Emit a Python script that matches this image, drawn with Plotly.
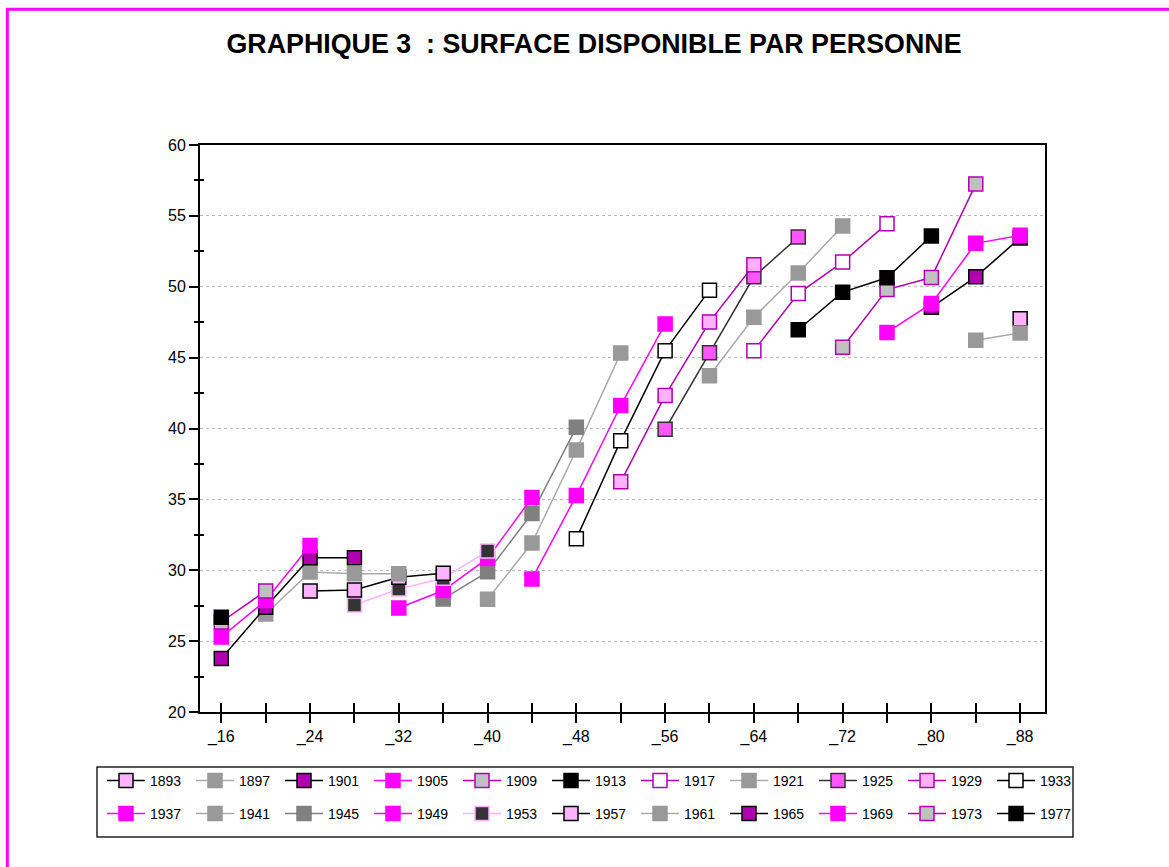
import plotly.graph_objects as go

# birth cohorts and their styles
cohorts = [1893, 1897, 1901, 1905, 1909, 1913, 1917, 1921, 1925, 1929, 1933,
           1937, 1941, 1945, 1949, 1953, 1957, 1961, 1965, 1969, 1973, 1977]

# age (x position) of the first observation of each cohort, then every 4 years
first_age = [88, 84, 80, 76, 72, 68, 64, 60, 56, 52, 48,
             44, 40, 36, 32, 28, 24, 20, 16, 16, 16, 16]

# surface per person (m2)
surface = [
    [47.75],
    [46.22, 46.74],
    [48.55, 50.70, 53.44],
    [46.78, 48.81, 53.06, 53.63],
    [45.73, 49.80, 50.65, 57.24],
    [46.97, 49.62, 50.63, 53.58],
    [45.49, 49.52, 51.74, 54.45],
    [43.72, 47.85, 50.97, 54.29],
    [39.94, 45.35, 50.70, 53.51],
    [36.24, 42.32, 47.52, 51.55],
    [32.23, 39.14, 45.49, 49.76],
    [29.39, 35.27, 41.62, 47.38],
    [27.95, 31.92, 38.48, 45.32],
    [27.98, 29.89, 34.00, 40.08],
    [27.34, 28.57, 30.83, 35.13],
    [27.55, 28.68, 29.44, 31.35],
    [28.54, 28.61, 29.51, 29.79],
    [26.91, 29.87, 29.75, 29.75],
    [23.78, 27.39, 30.88, 30.88],
    [25.29, 27.86, 31.75],
    [26.35, 28.54],
    [26.68],
]

age_ticks = list(range(16, 89, 4))
age_labels = [f"_{a}" if (a - 16) % 8 == 0 else "" for a in age_ticks]

PINK_L = "#ffb3ff"
PURPLE = "#b000b0"
MAG = "#ff00ff"
GRAY = "#999999"
# (fill, outline, line)
styles = [
    (PINK_L, "#000000", "#000000"),
    (GRAY, GRAY, "#aaaaaa"),
    (PURPLE, "#000000", "#000000"),
    (MAG, MAG, MAG),
    ("#c0c0c0", PURPLE, PURPLE),
    ("#000000", "#000000", "#000000"),
    ("#ffffff", PURPLE, PURPLE),
    (GRAY, GRAY, "#aaaaaa"),
    ("#ff55ff", "#333333", "#333333"),
    (PINK_L, PURPLE, PURPLE),
    ("#ffffff", "#000000", "#000000"),
    (MAG, MAG, MAG),
    (GRAY, GRAY, "#aaaaaa"),
    ("#808080", "#808080", "#808080"),
    (MAG, MAG, MAG),
    ("#333333", PINK_L, PINK_L),
    (PINK_L, "#000000", "#000000"),
    (GRAY, GRAY, "#aaaaaa"),
    (PURPLE, "#000000", "#000000"),
    (MAG, MAG, MAG),
    ("#c0c0c0", PURPLE, PURPLE),
    ("#000000", "#000000", "#000000"),
]

FONT = "Liberation Sans, Arial, sans-serif"
W, H = 1169, 867
ML, MR, MT, MB = 200, 124, 145, 155
PW, PH = W - ML - MR, H - MT - MB


def px_x(p):
    return (p - ML) / PW


def px_y(p):
    return (H - MB - p) / PH


fig = go.Figure()
for i, c in enumerate(cohorts):
    vals = surface[i]
    ages = [first_age[i] + 4 * k for k in range(len(vals))]
    fill, outline, line = styles[i]
    fig.add_trace(go.Scatter(
        x=ages, y=vals, mode="lines+markers", name=str(c),
        legend="legend" if i < 11 else "legend2",
        line=dict(color=line, width=1.5),
        marker=dict(symbol="square", size=14, color=fill,
                    line=dict(color=outline, width=1.5)),
    ))

# empty trace to carry the overlaid axes used for crossing ticks
fig.add_trace(go.Scatter(x=[], y=[], xaxis="x2", yaxis="y2", showlegend=False))

xr = [16 - 0.48 * 4, 88 + 0.56 * 4]
minor_vals = [22.5 + 5 * k for k in range(8)]

legend_style = dict(orientation="h", x=px_x(102), xanchor="left",
                    yanchor="middle", bgcolor="rgba(0,0,0,0)",
                    itemwidth=38, entrywidth=36, entrywidthmode="pixels",
                    font=dict(size=14, family=FONT), traceorder="normal")

fig.update_layout(
    width=W, height=H,
    margin=dict(l=ML, r=MR, t=MT, b=MB),
    paper_bgcolor="white", plot_bgcolor="white",
    font=dict(family=FONT, color="#000000"),
    title=dict(text="<b>GRAPHIQUE 3 &nbsp;: SURFACE DISPONIBLE PAR PERSONNE</b>",
               x=594 / W, xanchor="center", y=1 - 44 / H, yanchor="middle",
               font=dict(size=26.8, family=FONT, color="#000000")),
    xaxis=dict(range=xr, tickvals=age_ticks, ticktext=age_labels,
               ticks="outside", ticklen=9, tickwidth=1.5, tickcolor="#000",
               showline=True, linecolor="#000", linewidth=2, mirror=True,
               showgrid=False, zeroline=False,
               tickfont=dict(size=16, family=FONT)),
    yaxis=dict(range=[20, 60], dtick=5, ticks="outside", ticklen=9,
               tickwidth=1.5, tickcolor="#000",
               minor=dict(dtick=2.5, ticks="outside", ticklen=4,
                          tickwidth=1.5, tickcolor="#000", showgrid=False),
               showline=True, linecolor="#000", linewidth=2, mirror=True,
               showgrid=True, gridcolor="#bbbbbb", griddash="dot", gridwidth=1,
               zeroline=False, tickfont=dict(size=16, family=FONT)),
    xaxis2=dict(range=xr, overlaying="x", anchor="y", side="bottom",
                tickvals=age_ticks, ticks="inside", ticklen=9, tickwidth=1.5,
                tickcolor="#000", showticklabels=False, showgrid=False,
                showline=False, zeroline=False),
    yaxis2=dict(range=[20, 60], overlaying="y", anchor="x", side="left",
                tickvals=minor_vals, ticks="inside", ticklen=4, tickwidth=1.5,
                tickcolor="#000", showticklabels=False, showgrid=False,
                showline=False, zeroline=False),
    legend=dict(legend_style, y=px_y(781)),
    legend2=dict(legend_style, y=px_y(814)),
    shapes=[
        # legend frame
        dict(type="rect", xref="paper", yref="paper",
             x0=px_x(97), x1=px_x(1073), y0=px_y(837), y1=px_y(767),
             line=dict(color="#222222", width=1.5), layer="below"),
        # magenta page border
        dict(type="line", xref="paper", yref="paper",
             x0=px_x(6), x1=px_x(1169), y0=px_y(9.3), y1=px_y(9.3),
             line=dict(color=MAG, width=3)),
        dict(type="line", xref="paper", yref="paper",
             x0=px_x(7.3), x1=px_x(7.3), y0=px_y(8), y1=px_y(867),
             line=dict(color=MAG, width=3)),
    ],
)

fig.write_html("out.html", config={"displayModeBar": False},
               post_script="document.body.style.margin='0';")
